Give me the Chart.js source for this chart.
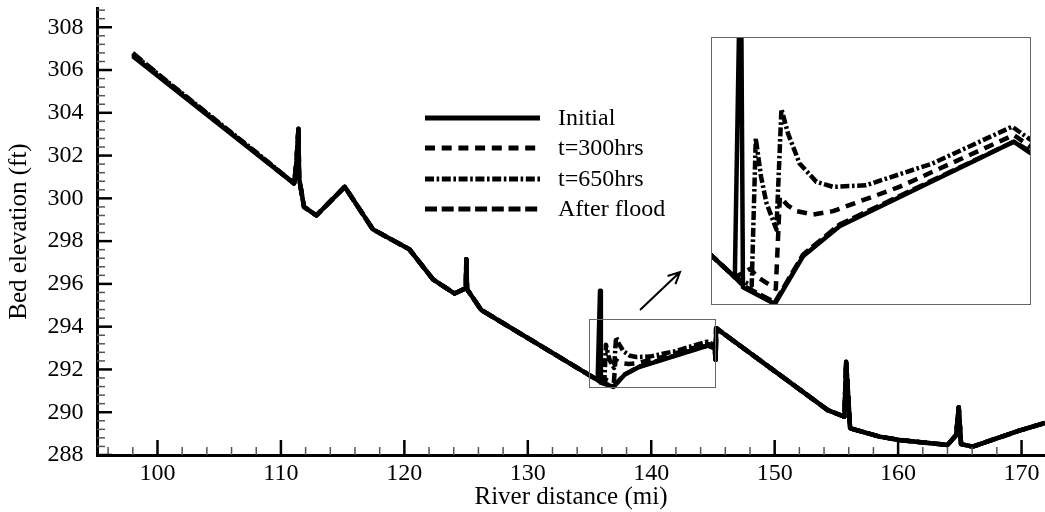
<!DOCTYPE html>
<html>
<head>
<meta charset="utf-8">
<title>Bed elevation profile</title>
<script src="https://cdn.jsdelivr.net/npm/chart.js@4.4.1/dist/chart.umd.min.js"></script>
<style>
  body { margin: 0; background: #fff; }
  canvas { display: block; }
  #wrap { position: relative; width: 1045px; height: 512px; }
  #inset { position: absolute; left: 711px; top: 37px; width: 318px; height: 266px; border: 1px solid #666; background: #fff; }
</style>
</head>
<body>
<div id="wrap">
  <canvas id="mainChart" width="1045" height="512"></canvas>
  <div id="inset"><canvas id="insetChart" width="318" height="266"></canvas></div>
</div>
<script>
const seriesLabels = ['Initial', 't=300hrs', 't=650hrs', 'After flood'];

// upstream start of each profile (river mi, ft)
const initialHeadMi = [98.0];
const initialHeadFt = [306.65];
const t300HeadMi = [98.0];
const t300HeadFt = [306.7];
const t650HeadMi = [98.0, 103.0, 108.0];
const t650HeadFt = [306.75, 304.45, 302.15];
const afterHeadMi = [98.0, 101.0, 106.0];
const afterHeadFt = [306.8, 305.35, 303.05];

// reach where all profiles coincide
const sharedUpMi = [111.06, 111.25, 111.42, 111.47, 111.87, 112.87, 115.17, 117.45, 120.4, 122.32, 124.07, 124.98, 125.02, 125.08, 126.23, 135.66];
const sharedUpFt = [300.7, 301.6, 303.25, 300.95, 299.6, 299.2, 300.54, 298.55, 297.62, 296.21, 295.55, 295.8, 297.15, 295.75, 294.78, 291.5];

// zoomed reach (135 - 145 mi)
const initialMidMi = [135.85, 135.92, 136.94, 137.84, 139.01, 144.58, 145.13];
const initialMidFt = [295.68, 291.38, 291.18, 291.75, 292.11, 293.12, 292.98];
const t300MidMi = [136.15, 136.4, 136.97, 137.1, 137.35, 137.63, 138.16, 138.8, 140.92, 144.58, 145.13];
const t300MidFt = [291.6, 291.5, 291.36, 292.46, 292.36, 292.29, 292.25, 292.29, 292.58, 293.2, 293.06];
const t650MidMi = [136.2, 136.33, 136.5, 136.67, 136.99, 137.15, 137.36, 137.73, 138.27, 138.8, 139.86, 141.98, 144.53, 145.13];
const t650MidFt = [291.4, 293.16, 292.7, 292.39, 292.07, 293.51, 293.22, 292.86, 292.64, 292.58, 292.6, 292.86, 293.3, 293.14];
const afterMidMi = [135.92, 136.94, 137.84, 139.01, 144.58, 145.13];
const afterMidFt = [291.4, 291.2, 291.77, 292.13, 293.12, 293.0];

// downstream reach, shared again
const sharedDownMi = [145.22, 145.26, 154.3, 155.65, 155.79, 156.11, 158.49, 160.1, 164.0, 164.7, 164.91, 165.1, 166.04, 169.82, 171.9];
const sharedDownFt = [292.45, 293.93, 290.1, 289.79, 292.36, 289.25, 288.86, 288.7, 288.47, 288.93, 290.23, 288.51, 288.39, 289.14, 289.5];

const xTickValues = [100, 110, 120, 130, 140, 150, 160, 170];
const yTickValues = [288, 290, 292, 294, 296, 298, 300, 302, 304, 306, 308];
const xRange = [95.1, 171.9];
const yRange = [288, 308.9];
const zoomMiRange = [134.93, 145.1];
const zoomFtRange = [291.18, 294.36];

const dashes = [[], [10, 6.7], [9, 2.6, 2.6, 2.6], [12, 4.7]];
const FONT = '"Liberation Serif", "Times New Roman", serif';

const toPoints = (mi, ft) => mi.map((x, i) => ({ x, y: ft[i] }));
const profile = (head, mid) => toPoints(
  [...head[0], ...sharedUpMi, ...mid[0], ...sharedDownMi],
  [...head[1], ...sharedUpFt, ...mid[1], ...sharedDownFt]
);

const profiles = [
  profile([initialHeadMi, initialHeadFt], [initialMidMi, initialMidFt]),
  profile([t300HeadMi, t300HeadFt], [t300MidMi, t300MidFt]),
  profile([t650HeadMi, t650HeadFt], [t650MidMi, t650MidFt]),
  profile([afterHeadMi, afterHeadFt], [afterMidMi, afterMidFt]),
];

const makeDatasets = (width) => profiles.map((data, i) => ({
  label: seriesLabels[i],
  data,
  borderColor: '#000',
  borderWidth: width,
  borderDash: dashes[i],
  borderCapStyle: 'butt',
  borderJoinStyle: 'round',
  pointRadius: 0,
  fill: false,
  tension: 0
}));

// inward tick marks, like the original plotting package
const axisTicks = {
  id: 'axisTicks',
  afterDatasetsDraw(chart) {
    const { ctx, chartArea: a, scales: { x, y } } = chart;
    const seg = (x1, y1, x2, y2) => { ctx.beginPath(); ctx.moveTo(x1, y1); ctx.lineTo(x2, y2); ctx.stroke(); };
    ctx.save();
    ctx.strokeStyle = '#555';
    ctx.lineWidth = 1.5;
    for (let i = 0; 96 + i * 2 <= xRange[1]; i++) {
      const v = 96 + i * 2;
      if (v % 10 === 0) continue;
      const px = x.getPixelForValue(v);
      seg(px, a.bottom, px, a.bottom - 8);
    }
    for (let i = 1; 288 + i * 0.4 <= yRange[1]; i++) {
      if (i % 5 === 0) continue;
      const py = y.getPixelForValue(288 + i * 0.4);
      seg(a.left, py, a.left + 8, py);
    }
    ctx.strokeStyle = '#000';
    ctx.lineWidth = 2.5;
    xTickValues.forEach(v => { const px = x.getPixelForValue(v); seg(px, a.bottom, px, a.bottom - 15); });
    yTickValues.forEach(v => { const py = y.getPixelForValue(v); seg(a.left, py, a.left + 15, py); });
    ctx.restore();
  }
};

// legend, zoom box and arrow
const decorations = {
  id: 'decorations',
  afterDraw(chart) {
    const { ctx, scales: { x, y } } = chart;
    ctx.save();
    // zoom window
    const bx1 = x.getPixelForValue(zoomMiRange[0]), bx2 = x.getPixelForValue(zoomMiRange[1]);
    const by1 = y.getPixelForValue(zoomFtRange[1]), by2 = y.getPixelForValue(zoomFtRange[0]);
    ctx.strokeStyle = '#666';
    ctx.lineWidth = 1;
    ctx.strokeRect(Math.round(bx1) + 0.5, Math.round(by1) + 0.5, Math.round(bx2 - bx1), Math.round(by2 - by1));

    // arrow pointing to the inset
    const ax1 = 640, ay1 = 310, ax2 = 680, ay2 = 272;
    const ang = Math.atan2(ay2 - ay1, ax2 - ax1);
    ctx.strokeStyle = '#000';
    ctx.lineWidth = 2;
    ctx.beginPath();
    ctx.moveTo(ax1, ay1); ctx.lineTo(ax2, ay2);
    ctx.moveTo(ax2 - 13 * Math.cos(ang - 0.45), ay2 - 13 * Math.sin(ang - 0.45));
    ctx.lineTo(ax2, ay2);
    ctx.lineTo(ax2 - 13 * Math.cos(ang + 0.45), ay2 - 13 * Math.sin(ang + 0.45));
    ctx.stroke();

    // legend
    const rows = [118, 148, 179, 209];
    ctx.font = '24px ' + FONT;
    ctx.fillStyle = '#000';
    ctx.textBaseline = 'middle';
    seriesLabels.forEach((label, i) => {
      ctx.lineWidth = 5;
      ctx.lineCap = 'butt';
      ctx.setLineDash(dashes[i]);
      ctx.beginPath();
      ctx.moveTo(425, rows[i]);
      ctx.lineTo(540, rows[i]);
      ctx.stroke();
      ctx.setLineDash([]);
      ctx.fillText(label, 558, rows[i] + 1);
    });
    ctx.restore();
  }
};

new Chart(document.getElementById('mainChart'), {
  type: 'line',
  data: { datasets: makeDatasets(4.5) },
  options: {
    responsive: false,
    animation: false,
    layout: { padding: { top: 8, right: 0, left: 0, bottom: 0 } },
    plugins: { legend: { display: false }, tooltip: { enabled: false } },
    scales: {
      x: {
        type: 'linear',
        min: xRange[0],
        max: xRange[1],
        afterBuildTicks: s => { s.ticks = xTickValues.map(value => ({ value })); },
        afterFit: s => { s.height = 57; s.paddingLeft = 0; s.paddingRight = 0; },
        grid: { display: true, drawOnChartArea: false, drawTicks: false },
        border: { display: true, color: '#000', width: 3 },
        ticks: { color: '#000', padding: 4, maxRotation: 0, font: { family: FONT, size: 24 } },
        title: { display: true, text: 'River distance (mi)', color: '#000', padding: { top: 0, bottom: 0 }, font: { family: FONT, size: 25 } }
      },
      y: {
        type: 'linear',
        min: yRange[0],
        max: yRange[1],
        afterBuildTicks: s => { s.ticks = yTickValues.map(value => ({ value })); },
        afterFit: s => { s.width = 97; s.paddingTop = 0; s.paddingBottom = 0; },
        grid: { display: true, drawOnChartArea: false, drawTicks: false },
        border: { display: true, color: '#000', width: 3 },
        ticks: { color: '#000', padding: 13.5, font: { family: FONT, size: 24 } },
        title: { display: true, text: 'Bed elevation (ft)', color: '#000', padding: { top: 4, bottom: 0 }, font: { family: FONT, size: 25 } }
      }
    }
  },
  plugins: [axisTicks, decorations]
});

new Chart(document.getElementById('insetChart'), {
  type: 'line',
  data: { datasets: makeDatasets(4.5) },
  options: {
    responsive: false,
    animation: false,
    layout: { padding: 0 },
    plugins: { legend: { display: false }, tooltip: { enabled: false } },
    scales: {
      x: { type: 'linear', display: false, min: zoomMiRange[0], max: zoomMiRange[1] },
      y: { type: 'linear', display: false, min: zoomFtRange[0], max: zoomFtRange[1] }
    }
  }
});
</script>
</body>
</html>
